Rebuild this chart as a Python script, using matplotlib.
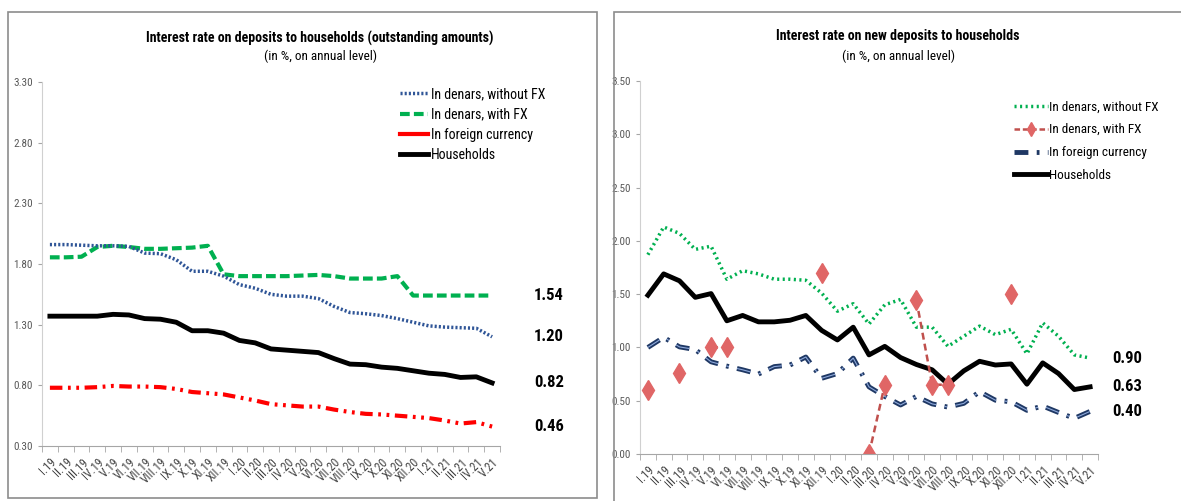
import matplotlib
matplotlib.use("Agg")
import matplotlib.pyplot as plt
from matplotlib.lines import Line2D
from matplotlib.patches import Rectangle
import numpy as np

plt.rcParams['font.family'] = ['Roboto Condensed', 'DejaVu Sans']
plt.rcParams['lines.scale_dashes'] = False

months = ["I.19", "II.19", "III.19", "IV.19", "V.19", "VI.19", "VII.19", "VIII.19", "IX.19", "X.19",
          "XI.19", "XII.19", "I.20", "II.20", "III.20", "IV.20", "V.20", "VI.20", "VII.20", "VIII.20",
          "IX.20", "X.20", "XI.20", "XII.20", "I.21", "II.21", "III.21", "IV.21", "V.21"]

# outstanding amounts
out_den_no_fx = [1.96, 1.96, 1.955, 1.95, 1.95, 1.945, 1.89, 1.885, 1.835, 1.74,
                 1.74, 1.70, 1.63, 1.60, 1.55, 1.535, 1.535, 1.515, 1.45, 1.40,
                 1.39, 1.375, 1.35, 1.32, 1.29, 1.28, 1.275, 1.27, 1.20]
out_den_fx = [1.855, 1.855, 1.86, 1.94, 1.95, 1.94, 1.925, 1.925, 1.93, 1.935,
              1.95, 1.715, 1.70, 1.70, 1.70, 1.70, 1.705, 1.71, 1.70, 1.68,
              1.68, 1.68, 1.70, 1.54, 1.54, 1.54, 1.54, 1.54, 1.54]
out_foreign = [0.78, 0.78, 0.78, 0.785, 0.795, 0.79, 0.79, 0.785, 0.77, 0.745,
               0.735, 0.725, 0.70, 0.675, 0.645, 0.635, 0.625, 0.625, 0.60, 0.58,
               0.565, 0.56, 0.55, 0.54, 0.53, 0.51, 0.485, 0.497, 0.46]
out_house = [1.37, 1.37, 1.37, 1.37, 1.385, 1.38, 1.35, 1.345, 1.32, 1.25,
             1.25, 1.23, 1.17, 1.15, 1.10, 1.09, 1.08, 1.07, 1.02, 0.975,
             0.97, 0.95, 0.94, 0.92, 0.90, 0.89, 0.865, 0.87, 0.82]
out_end_labels = ["1.54", "1.20", "0.82", "0.46"]

# new deposits
new_den_no_fx = [1.87, 2.13, 2.07, 1.92, 1.95, 1.64, 1.72, 1.69, 1.64, 1.64,
                 1.63, 1.51, 1.34, 1.41, 1.22, 1.40, 1.45, 1.19, 1.19, 1.01,
                 1.105, 1.20, 1.12, 1.17, 0.94, 1.23, 1.105, 0.93, 0.90]
new_den_fx = [0.60, np.nan, 0.76, np.nan, 1.00, 1.00, np.nan, np.nan, np.nan, np.nan,
              np.nan, 1.70, np.nan, np.nan, 0.00, 0.65, np.nan, 1.445, 0.65, 0.65,
              np.nan, np.nan, np.nan, 1.50, np.nan, np.nan, np.nan, np.nan, np.nan]
new_foreign = [1.00, 1.095, 1.005, 0.98, 0.865, 0.825, 0.79, 0.75, 0.82, 0.835,
               0.91, 0.71, 0.755, 0.90, 0.63, 0.54, 0.46, 0.54, 0.47, 0.44,
               0.475, 0.585, 0.505, 0.49, 0.41, 0.45, 0.39, 0.335, 0.40]
new_house = [1.49, 1.69, 1.625, 1.47, 1.505, 1.25, 1.30, 1.24, 1.24, 1.255,
             1.30, 1.16, 1.07, 1.19, 0.93, 1.01, 0.905, 0.84, 0.79, 0.655,
             0.78, 0.87, 0.835, 0.845, 0.655, 0.855, 0.755, 0.605, 0.63]
new_end_labels = ["0.90", "0.63", "0.40"]

W, H = 1181, 501
fig = plt.figure(figsize=(W / 100, H / 100), dpi=100)

# panel frames
fig.patches.append(Rectangle((8 / W, 3 / H), 589 / W, 486 / H, transform=fig.transFigure,
                             fill=False, edgecolor="#8c8c8c", linewidth=1.2))
fig.patches.append(Rectangle((614 / W, -0.02), 600 / W, 489 / H + 0.02, transform=fig.transFigure,
                             fill=False, edgecolor="#8c8c8c", linewidth=1.2))

x = np.arange(len(months))


def style_axes(ax, ymin, ymax, step):
    ax.set_xlim(-0.5, len(months) - 0.5)
    ax.set_ylim(ymin, ymax)
    ax.set_yticks(np.arange(ymin, ymax + 0.001, step))
    ax.yaxis.set_major_formatter(matplotlib.ticker.FormatStrFormatter("%.2f"))
    ax.set_xticks(x)
    ax.set_xticklabels(months, rotation=45, ha="right", rotation_mode="anchor",
                       fontsize=8.5, color="#404040")
    ax.set_xticks(np.arange(-0.5, len(months), 1), minor=True)
    ax.tick_params(axis="x", which="major", length=0, pad=7)
    ax.tick_params(axis="x", which="minor", length=4, color="#a6a6a6")
    ax.tick_params(axis="y", length=3, color="#a6a6a6", labelsize=8, labelcolor="#595959")
    for s in ["top", "right"]:
        ax.spines[s].set_visible(False)
    ax.spines["left"].set_color("#d0d0d0")
    ax.spines["bottom"].set_color("#a6a6a6")


# left chart
ax1 = fig.add_axes([42 / W, 1 - 446 / H, 458 / W, 364 / H])
style_axes(ax1, 0.30, 3.30, 0.5)
ax1.plot(x, out_den_fx, color="#00b050", lw=3, dashes=(7, 3))
ax1.plot(x, out_den_no_fx, color="#2f5597", lw=2.5, dashes=(1.5, 1.5))
ax1.plot(x, out_foreign, color="#ff0000", lw=3, dashes=(9, 4, 2, 4, 2, 4))
ax1.plot(x, out_house, color="black", lw=3.5)
for val, lab in zip([out_den_fx[-1], out_den_no_fx[-1], out_house[-1], out_foreign[-1]], out_end_labels):
    ax1.annotate(lab, (x[-1], val), xytext=(30, 0), textcoords="offset points",
                 va="center", ha="left", fontsize=12, fontweight="bold")
fig.text(320 / W, 1 - 38 / H, "Interest rate on deposits to households (outstanding amounts)",
         ha="center", va="center", fontsize=10, fontweight="bold")
fig.text(320 / W, 1 - 56 / H, "(in %, on annual level)", ha="center", va="center", fontsize=9.5)
h1 = [Line2D([], [], color="#2f5597", lw=2.5, dashes=(1.5, 1.5)),
      Line2D([], [], color="#00b050", lw=3, dashes=(7, 3)),
      Line2D([], [], color="#ff0000", lw=3),
      Line2D([], [], color="black", lw=3.5)]
ax1.legend(h1, ["In denars, without FX", "In denars, with FX", "In foreign currency", "Households"],
           loc="upper left", bbox_to_anchor=(0.755, 1.02), frameon=False, fontsize=10,
           handlelength=2.0, handletextpad=0.2, labelspacing=0.45)

# right chart
ax2 = fig.add_axes([640 / W, 1 - 454 / H, 458 / W, 373 / H])
style_axes(ax2, 0.0, 3.5, 0.5)
ax2.plot(x, new_den_no_fx, color="#00b050", lw=2.5, dashes=(1.5, 2.5))
ax2.plot(x, new_foreign, color="#1f3864", lw=3.5, dashes=(10, 6, 2, 6))
ax2.plot(x, new_foreign, color="#8ea9db", lw=0.8, dashes=(10, 6, 2, 6))
ax2.plot(x, new_house, color="black", lw=3.5)
ax2.plot(x, new_den_fx, color="#c0504d", lw=1.8, dashes=(5, 3), marker="d",
         markersize=10, markerfacecolor="#e06666", markeredgecolor="#e06666")
for val, lab in zip([new_den_no_fx[-1], new_house[-1], new_foreign[-1]], new_end_labels):
    ax2.annotate(lab, (x[-1], val), xytext=(16, 0), textcoords="offset points",
                 va="center", ha="left", fontsize=12, fontweight="bold", annotation_clip=False)
fig.text(898 / W, 1 - 36 / H, "Interest rate on new deposits to households",
         ha="center", va="center", fontsize=10, fontweight="bold")
fig.text(898 / W, 1 - 56 / H, "(in %, on annual level)", ha="center", va="center", fontsize=9.5)
h2 = [Line2D([], [], color="#00b050", lw=2.5, dashes=(1.5, 2.5)),
      Line2D([], [], color="#c0504d", lw=1.8, dashes=(4, 2), marker="d", markersize=7,
             markerfacecolor="#e06666", markeredgecolor="#e06666"),
      Line2D([], [], color="#1f3864", lw=3.5, dashes=(10, 6, 2, 6)),
      Line2D([], [], color="black", lw=3.5)]
ax2.legend(h2, ["In denars, without FX", "In denars, with FX", "In foreign currency", "Households"],
           loc="upper left", bbox_to_anchor=(0.79, 0.98), frameon=False, fontsize=9.5,
           handlelength=2.6, handletextpad=0.1, labelspacing=0.75)

fig.savefig("out.png", dpi=100)
